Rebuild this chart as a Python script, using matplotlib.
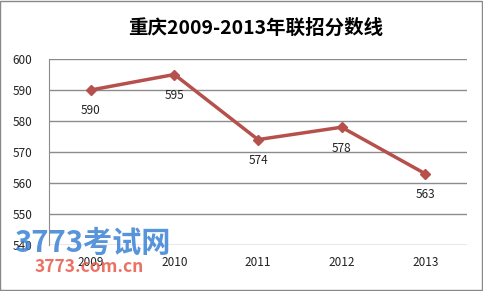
import matplotlib.pyplot as plt
from matplotlib.patches import Rectangle

plt.rcParams['font.family'] = ['Noto Sans CJK SC', 'DejaVu Sans']

years = ["2009", "2010", "2011", "2012", "2013"]
scores = [590, 595, 574, 578, 563]
y_ticks = [540, 550, 560, 570, 580, 590, 600]

fig = plt.figure(figsize=(4.83, 2.91), dpi=100)
ax = fig.add_axes([49 / 483, 1 - 245 / 291, 418 / 483, 186 / 291])

x = list(range(len(years)))
ax.plot(x, scores, color="#B6504C", linewidth=2.5, marker="D", markersize=5, zorder=3)

# data labels under each point
for xi, v in zip(x, scores):
    ax.annotate(str(v), (xi, v), xytext=(0, -15), textcoords="offset points",
                ha="center", va="center", fontsize=8.5, color="#222222")

ax.set_xlim(-0.5, len(years) - 0.5)
ax.set_ylim(540, 600)
ax.set_yticks(y_ticks)
ax.set_xticks(x)
ax.set_xticklabels(years)
ax.tick_params(axis="both", length=0, labelsize=8.5, colors="#222222")
ax.tick_params(axis="x", pad=8)
ax.tick_params(axis="y", pad=12)
ax.grid(axis="y", color="#8c8c8c", linewidth=1)
ax.set_axisbelow(True)
for side in ["top", "right", "bottom"]:
    ax.spines[side].set_visible(False)
ax.spines["left"].set_color("#8c8c8c")

fig.text(256 / 483, 1 - 28 / 291, "重庆2009-2013年联招分数线", ha="center", va="center",
         fontsize=14, fontweight="bold")

# watermark (overlaps the axis labels, as in the source image)
fig.text(14 / 483, 1 - 243 / 291, "3773考试网", ha="left", va="center", fontsize=21,
         fontweight="bold", style="italic", color="#3b82d4", alpha=0.85)
fig.text(35 / 483, 1 - 267 / 291, "3773.com.cn", ha="left", va="center", fontsize=12.5,
         fontweight="bold", color="#e8584a", alpha=0.85)

# outer frame
fig.patches.append(Rectangle((0.001, 0.002), 0.997, 0.995, transform=fig.transFigure,
                             fill=False, edgecolor="#888888", linewidth=1))

fig.savefig("out.png", dpi=100)
